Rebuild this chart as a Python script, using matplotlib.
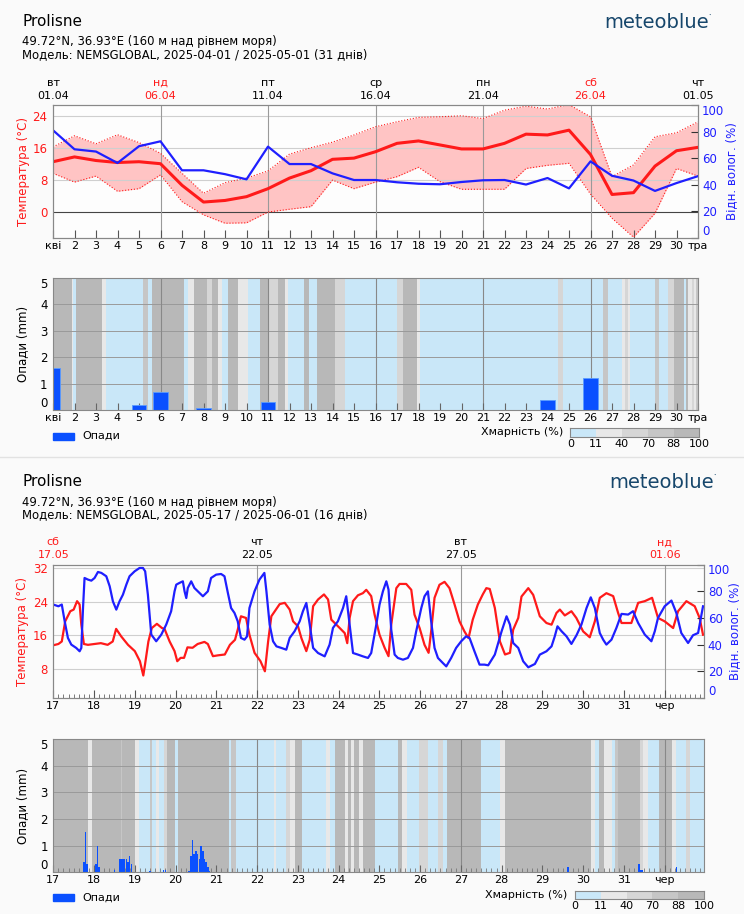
import numpy as np
import matplotlib
matplotlib.use("Agg")
import matplotlib.pyplot as plt
from matplotlib.colors import ListedColormap
from matplotlib.patches import Rectangle
from matplotlib.lines import Line2D

# ---------------- April chart (daily values) ----------------
days1 = np.arange(31)
xlabels1 = ['кві'] + [str(d) for d in range(2, 31)] + ['тра']
top_days1 = ['вт', 'нд', 'пт', 'ср', 'пн', 'сб', 'чт']
top_dates1 = ['01.04', '06.04', '11.04', '16.04', '21.04', '26.04', '01.05']
top_red1 = [False, True, False, False, False, True, False]

t_mean1 = [12.5, 13.7, 12.8, 12.3, 12.5, 12.0, 6.6, 2.4, 2.8, 3.75, 5.75, 8.4, 10.25, 13.1, 13.4,
           15.0, 17.1, 17.7, 16.7, 15.7, 15.7, 17.1, 19.4, 19.2, 20.4, 14.3, 4.3, 4.75, 11.4, 15.25, 16.1]
t_max1 = [16.2, 19.0, 17.0, 19.25, 17.3, 14.6, 9.6, 4.6, 7.25, 8.4, 10.2, 14.4, 16.0, 17.4, 19.2,
          21.25, 22.5, 23.6, 23.75, 24.0, 23.3, 25.4, 26.4, 25.7, 26.8, 23.75, 8.75, 11.7, 18.75, 19.75, 22.5]
t_min1 = [9.6, 7.4, 8.9, 5.1, 5.75, 9.2, 2.5, -0.8, -2.9, -2.8, -0.1, 0.6, 1.25, 7.9, 5.75,
          7.4, 8.75, 11.1, 7.5, 5.6, 5.6, 5.6, 10.8, 11.6, 12.1, 4.4, -1.65, -6.4, -0.4, 10.8, 8.9]
hum1 = [81, 66.7, 65, 56.4, 69, 72.7, 50.9, 50.9, 48, 44.1, 68.7, 55.6, 55.6, 48.6, 43.6,
        43.6, 41.9, 40.8, 40.4, 42.1, 43.4, 43.6, 40.2, 45.1, 37.3, 57.6, 46.8, 43.2, 35.4, 41.3, 46.5]
precip1 = [1.6, 0, 0, 0, 0.2, 0.7, 0, 0.1, 0, 0, 0.3, 0, 0, 0, 0, 0, 0, 0, 0, 0,
           0, 0, 0, 0.4, 0, 1.2, 0, 0, 0, 0, 0]

# cloud cover class per time span (0: 0-11, 1: 11-40, 2: 40-70, 3: 70-88, 4: 88-100 %)
cloud_edges1 = [0, 0.90, 0.95, 1.08, 2.29, 2.45, 4.2, 4.4, 4.59, 6.07, 6.26, 6.57, 7.15, 7.38, 7.69,
                7.84, 8.16, 8.62, 9.09, 9.63, 10.02, 10.48, 10.79, 10.95, 11.67, 11.92, 12.27, 13.12,
                13.58, 15.98, 16.3, 16.93, 17.05, 23.49, 23.71, 25.6, 25.8, 26.46, 26.6, 26.75, 26.85,
                28.0, 28.17, 28.6, 28.87, 29.33, 29.45, 29.55, 29.7, 29.8, 29.9, 30.0]
cloud_cls1 = [4, 1, 0, 4, 1, 0, 3, 0, 4, 0, 1, 4, 2, 4, 1, 0, 4, 1, 0, 4, 2, 4, 1, 0, 4, 0, 4, 2, 0, 2,
              4, 1, 0, 2, 0, 3, 0, 1, 2, 1, 0, 3, 0, 2, 4, 0, 4, 1, 2, 1, 3]

# ---------------- May chart (hourly values) ----------------
xlabels2 = [str(d) for d in range(17, 32)] + ['чер']
top_days2 = ['сб', 'чт', 'вт', 'нд']
top_dates2 = ['17.05', '22.05', '27.05', '01.06']
top_red2 = [True, False, False, True]

temp2_h = [0, 3, 5, 7, 10, 12, 14, 15.5, 16.5, 18, 20.4, 24, 28, 32, 35, 37, 40, 44, 48, 51, 53, 54, 56,
           58, 61, 64, 65.5, 68.5, 71.4, 73, 75, 77, 79, 82, 85, 89, 91, 94, 97, 101, 104, 107, 108.6,
           110.5, 113.5, 115.5, 118.5, 122, 124.6, 126.5, 128.4, 130.4, 133.3, 136.3, 139.2, 141.2,
           144.1, 146.1, 149, 151, 153, 155.9, 159.4, 161.8, 163.7, 166.7, 169.6, 171.6, 173.1, 174.5,
           176.5, 179.4, 182.3, 184.3, 187.2, 189.2, 192.1, 195.1, 197.4, 199, 202, 203.9, 207.8, 210.8,
           212.7, 215.7, 218.6, 221, 222.5, 224.5, 227.4, 230.4, 233.3, 236.3, 239.2, 242.1, 244.5, 247,
           250, 252.9, 255, 257, 260, 263, 266, 268.9, 270.8, 273.8, 275.7, 279.7, 282.6, 286.5, 290.4,
           293.4, 296.3, 298.3, 301.2, 305.1, 308, 312, 315.9, 318.9, 321.8, 325.7, 329.7, 332.6, 334.6,
           338.5, 340.4, 344.4, 348.3, 352.6, 356.1, 360, 365, 367.9, 372.8, 377.7, 380.6, 382.6]
temp2 = [13.6, 13.9, 14.5, 19.3, 21.7, 22.1, 24.1, 23.3, 18.5, 13.9, 13.7, 13.9, 14.1, 13.7, 14.5, 17.5,
         15.7, 13.7, 12.2, 9.8, 6.4, 9.0, 14.5, 17.7, 18.7, 17.7, 17.5, 14.5, 12.2, 9.8, 10.6, 10.6, 13.1,
         13.0, 13.9, 14.4, 13.9, 11.0, 11.2, 11.4, 13.7, 14.9, 17.3, 20.5, 20.1, 16.1, 11.8, 9.8, 7.4, 14.5,
         20.5, 21.7, 23.4, 23.7, 22.1, 19.3, 18.1, 15.3, 12.2, 14.9, 22.9, 24.5, 25.7, 24.5, 19.7, 18.5,
         17.3, 16.5, 14.1, 20.1, 24.1, 25.5, 26.0, 26.8, 25.3, 20.9, 16.1, 13.0, 11.0, 18.5, 27.2, 28.2,
         28.2, 26.8, 20.9, 17.7, 13.7, 11.8, 16.9, 24.9, 28.0, 28.7, 27.2, 23.3, 19.3, 16.9, 15.3, 19.7,
         23.3, 25.7, 27.2, 27.0, 22.5, 14.5, 11.4, 11.8, 17.3, 20.1, 25.2, 27.2, 25.6, 20.5, 18.9, 18.5,
         21.3, 22.1, 20.7, 21.7, 20.1, 16.9, 15.5, 19.3, 24.9, 26.0, 25.3, 21.3, 18.9, 18.9, 18.9, 23.7,
         24.1, 24.9, 20.1, 19.3, 17.7, 21.7, 24.1, 22.9, 20.1, 16.1]

hum2_h = [0, 3, 5, 6.7, 8.6, 10.6, 13.5, 15.5, 16.5, 17.5, 18.4, 20.4, 22.4, 24.3, 26.3, 28.3, 31.2, 33.2,
          35.1, 37.1, 39, 41, 43, 44.9, 47.9, 50.8, 52.8, 54.1, 55.7, 57.7, 60.6, 63.6, 66.5, 69.4, 71.4,
          72.4, 74.3, 76.3, 77.3, 78.3, 79.2, 81.2, 83.1, 86.1, 88.1, 91, 92.9, 95.9, 98.8, 100.8, 102.8,
          104.7, 106.7, 108.6, 110.5, 112.6, 114.1, 115.5, 118.5, 121.4, 124.3, 125.5, 127.4, 129.4,
          131.4, 134.3, 137.2, 139.2, 142.1, 145.1, 147, 149, 151, 153, 155.9, 159.8, 162.7, 164.7, 167.6,
          170.6, 172.5, 174.5, 176.5, 179.4, 182.3, 185.3, 187.2, 190.2, 192.1, 194.1, 196.1, 197.4, 199,
          201, 202.9, 205.9, 208.8, 211.8, 213.7, 216.7, 218.6, 220.6, 222.5, 224.5, 226.5, 229.4, 231.4,
          234.3, 237.2, 240.2, 243.1, 245.1, 248, 251, 253.9, 256.1, 260, 264, 266.9, 268.9, 270.8, 273.8,
          276.7, 279.7, 283.6, 286.5, 290.4, 293.4, 295.3, 296.9, 299.3, 302.2, 305.1, 308.1, 311, 314,
          316.5, 318.9, 321.8, 323.8, 325.7, 328.7, 331.6, 334.6, 338.5, 341.4, 344.4, 348.3, 352.2, 354.2,
          356.1, 360, 364, 366.9, 369.8, 373.8, 376.7, 379.7, 382.6]
hum2 = [70, 68.7, 70, 57.5, 45, 40, 37.5, 35, 37.5, 67.4, 89.9, 88.7, 87.9, 89.9, 94.4, 93.7, 91.2, 83.7,
        72.4, 66.2, 72.4, 77.4, 84.9, 91.2, 94.9, 97.4, 97.4, 94.9, 77.4, 47.5, 42.5, 47.5, 55, 65, 79.9,
        84.9, 86.2, 87.4, 79.9, 74.9, 82.4, 87.4, 82.4, 78.7, 76.2, 79.9, 89.9, 92.4, 92.9, 91.2, 78.7,
        67.4, 63.7, 57.5, 45, 43.7, 46.2, 67.4, 79.9, 88.7, 93.7, 79.9, 55, 42.5, 38.7, 37.5, 36.2, 45,
        50, 57.5, 65, 71.2, 55, 37.5, 33.7, 31.2, 40, 52.5, 57.5, 67.4, 76.2, 55, 33.7, 32.5, 31.2, 30,
        33.7, 55, 69.9, 79.9, 87.4, 81.2, 51.2, 32.5, 30, 28.7, 30, 37.5, 50, 67.4, 76.2, 79.9, 57.5,
        37.5, 30, 26.2, 23.7, 30, 37.5, 42.5, 46.2, 45, 35, 25, 25, 24.5, 32.5, 50, 61.2, 55, 41.2, 37.5,
        27.5, 23, 25.5, 32.5, 35, 38.7, 46.2, 53.7, 50, 46.2, 40.5, 47, 55, 67.4, 75.4, 67.4, 48.7, 43.7,
        40, 43.7, 52.5, 63, 62.5, 65, 56.2, 47.5, 42.5, 50, 60, 68.7, 73, 63.7, 48.7, 41.2, 47, 48.7, 68.7]

precip2_h = [18, 19, 20, 25, 26, 27, 36, 39, 40, 41, 42, 43, 44, 45, 46, 57, 65, 66, 80, 81, 82, 83, 84,
             85, 86, 87, 88, 89, 90, 91, 92, 303, 345, 346, 347, 367]
precip2 = [0.4, 1.5, 0.3, 0.3, 1.0, 0.2, 0.1, 0.5, 0.5, 0.5, 0.5, 0.5, 0.4, 0.6, 0.3, 0.05, 0.1, 0.1,
           0.05, 0.6, 1.2, 0.7, 0.8, 0.7, 0.5, 1.0, 0.8, 0.5, 0.4, 0.2, 0.05, 0.2, 0.3, 0.1, 0.1, 0.2]

cloud_edges2 = [0, 0.86, 0.94, 1.65, 1.69, 2.0, 2.11, 2.37, 2.41, 2.53, 2.6, 2.71, 2.8, 2.98, 3.06, 4.31,
                4.37, 4.48, 5.41, 5.47, 5.7, 5.8, 5.92, 6.09, 6.7, 6.78, 6.9, 7.15, 7.23, 7.31, 7.39, 7.51,
                7.6, 7.9, 8.45, 8.55, 8.67, 8.98, 9.19, 9.45, 9.55, 9.65, 10.5, 10.97, 11.08, 13.2, 13.3,
                13.38, 13.5, 13.7, 13.78, 13.85, 14.4, 14.48, 14.6, 14.85, 15.17, 15.27, 15.53, 15.62, 15.96]
cloud_cls2 = [4, 1, 4, 3, 4, 1, 0, 3, 0, 1, 0, 2, 4, 0, 4, 0, 3, 0, 1, 0, 2, 1, 4, 0, 1, 0, 4, 1, 4, 1,
              4, 1, 4, 0, 4, 1, 0, 2, 0, 2, 0, 4, 0, 1, 4, 1, 0, 4, 1, 0, 3, 4, 2, 1, 0, 4, 1, 0, 2, 0]

cloud_ticks = ['0', '11', '40', '70', '88', '100']
cloud_colors = ['#c9e7f8', '#e8e8e8', '#d6d6d6', '#c6c6c6', '#b8b8b8']

# ---------------- drawing ----------------
W, H = 744, 914
RED = '#ff1a1a'
BLUE = '#1f1fff'
BAR = '#0a50ff'
cmap = ListedColormap(cloud_colors)

fig = plt.figure(figsize=(W / 100, H / 100), dpi=100, facecolor='#fafafa')


def box(x0, y0, x1, y1):
    return [x0 / W, 1 - y1 / H, (x1 - x0) / W, (y1 - y0) / H]


def ftext(x, y, s, **kw):
    fig.text(x / W, 1 - y / H, s, **kw)


def header(y0, line2, logo_x):
    ftext(22, y0 + 21, 'Prolisne', fontsize=11, va='center')
    ftext(22, y0 + 42, '49.72°N, 36.93°E (160 м над рівнем моря)', fontsize=8.4, va='center')
    ftext(22, y0 + 55, line2, fontsize=8.4, va='center')
    ftext(logo_x, y0 + 23, 'meteoblue', fontsize=14, color='#16466b', va='center')
    ftext(logo_x + 104, y0 + 16, '•', fontsize=3, color='#16466b', va='center')


def edge_labels(ax):
    labs = ax.get_yticklabels()
    labs[0].set_va('bottom')
    labs[-1].set_va('top')


def style_spines(ax):
    for s in ax.spines.values():
        s.set_color('#888888')
        s.set_linewidth(0.8)


def set_ylabel_px(ax, text, color, x_px, rect):
    # centre the rotated label at a given pixel column
    ax.set_ylabel(text, color=color, fontsize=8.5)
    ax.yaxis.set_label_coords((x_px - rect[0]) / (rect[2] - rect[0]), 0.5)
    ax.yaxis.label.set_va('center')
    ax.yaxis.label.set_ha('center')


def temp_panel(rect, xlim, ylim, yticks, grid_x, labels_x, xlabels, tops, lab_px):
    ax = fig.add_axes(box(*rect))
    ax.set_facecolor('#fdfdfd')
    ax.set_xlim(*xlim)
    ax.set_ylim(*ylim)
    ax.set_yticks(yticks)
    for t in yticks:
        ax.axhline(t, color='#444444' if t == 0 else '#cfcfcf', lw=0.8, zorder=1.5)
    for g in grid_x:
        ax.axvline(g, color='#9a9a9a', lw=0.8, zorder=1.5)
    ax.tick_params(axis='y', length=0, labelcolor=RED, labelsize=8.5, pad=4)
    ax.set_xticks(labels_x)
    ax.set_xticklabels(xlabels)
    ax.tick_params(axis='x', direction='in', length=6, color='#555555', labelsize=8, pad=2)
    set_ylabel_px(ax, 'Температура (°C)', RED, lab_px[0], rect)
    style_spines(ax)
    for (g, d, dt, red) in tops:
        col = RED if red else 'black'
        ax.annotate(dt, xy=(g, 1), xycoords=('data', 'axes fraction'), xytext=(0, 6.5),
                    textcoords='offset points', ha='center', va='center', fontsize=8, color=col)
        ax.annotate(d, xy=(g, 1), xycoords=('data', 'axes fraction'), xytext=(0, 16),
                    textcoords='offset points', ha='center', va='center', fontsize=8, color=col)
    axr = ax.twinx()
    axr.set_ylim(0, 100)
    axr.set_yticks(range(0, 101, 20))
    axr.tick_params(axis='y', direction='in', length=5, color='#333333', labelcolor=BLUE,
                    labelsize=8.5, pad=3)
    set_ylabel_px(axr, 'Відн. волог. (%)', BLUE, lab_px[1], rect)
    style_spines(axr)
    edge_labels(axr)
    return ax, axr


def precip_panel(rect, xlim, edges, cls, grid_x, labels_x, xlabels):
    ax = fig.add_axes(box(*rect))
    ax.set_xlim(*xlim)
    ax.set_ylim(0, 5)
    ax.pcolormesh(edges, [0, 5], [cls], cmap=cmap, vmin=-0.5, vmax=4.5, zorder=0)
    for v in range(1, 5):
        ax.axhline(v, color='#9a9a9a', lw=0.7, zorder=1)
    for g in grid_x:
        ax.axvline(g, color='#888888', lw=0.8, zorder=1)
    ax.set_yticks(range(6))
    ax.tick_params(axis='y', length=0, labelsize=8.5, pad=4)
    ax.set_xticks(labels_x)
    ax.set_xticklabels(xlabels)
    ax.tick_params(axis='x', direction='in', length=5, color='#666666', labelsize=8, pad=2)
    set_ylabel_px(ax, 'Опади (mm)', 'black', 23, rect)
    style_spines(ax)
    edge_labels(ax)
    return ax


def legends(y_leg, y_cb, cb_x0, cb_x1):
    fig.patches.append(Rectangle((53 / W, 1 - (y_leg + 3.5) / H), 21 / W, 7 / H,
                                 transform=fig.transFigure, color=BAR))
    ftext(82, y_leg, 'Опади', fontsize=8, va='center')
    cax = fig.add_axes(box(cb_x0, y_cb - 4.2, cb_x1, y_cb + 4.2))
    cax.pcolormesh(range(6), [0, 1], [[0, 1, 2, 3, 4]], cmap=cmap, vmin=-0.5, vmax=4.5)
    cax.set_xticks(range(6))
    cax.set_xticklabels(cloud_ticks)
    cax.set_yticks([])
    cax.tick_params(axis='x', length=0, labelsize=8, pad=1.5)
    style_spines(cax)
    ftext(cb_x0 - 7, y_cb, 'Хмарність (%)', fontsize=8, ha='right', va='center')


# ----- April -----
header(0, 'Модель: NEMSGLOBAL, 2025-04-01 / 2025-05-01 (31 днів)', 604)
grid1 = [5, 10, 15, 20, 25]
tops1 = list(zip([0, 5, 10, 15, 20, 25, 30], top_days1, top_dates1, top_red1))
rect1 = (53, 105, 698, 238)
ax1, ax1r = temp_panel(rect1, (0, 30), (-6.6, 26.7), [0, 8, 16, 24],
                       grid1, days1, xlabels1, tops1, (23, 732))
ax1.fill_between(days1, t_min1, t_max1, color='#ffc4c4', lw=0, zorder=1)
ax1.plot(days1, t_max1, color=RED, lw=0.8, ls=':', zorder=2)
ax1.plot(days1, t_min1, color=RED, lw=0.8, ls=':', zorder=2)
ax1.plot(days1, t_mean1, color=RED, lw=2.2, zorder=3)
ax1r.plot(days1, hum1, color=BLUE, lw=1.6)

ax2 = precip_panel((53, 277.5, 698, 410.3), (0, 30), cloud_edges1, cloud_cls1, grid1, days1, xlabels1)
ax2.bar(days1, precip1, width=0.66, color=BAR, edgecolor='#5a9cff', lw=0.6, zorder=2)
legends(436, 432.5, 570.3, 699.3)

fig.add_artist(Line2D([0, 1], [1 - 457 / H, 1 - 457 / H], color='#e2e2e2', lw=1))

# ----- May -----
header(460, 'Модель: NEMSGLOBAL, 2025-05-17 / 2025-06-01 (16 днів)', 609)
xend = 383 / 24
grid2 = [5, 10, 15]
day2 = np.arange(16)
tops2 = list(zip([0, 5, 10, 15], top_days2, top_dates2, top_red2))
rect3 = (53.3, 564.5, 703.7, 698)
ax3, ax3r = temp_panel(rect3, (0, xend), (1.04, 32.83), [8, 16, 24, 32],
                       grid2, day2, xlabels2, tops2, (23, 735))
ax3.set_xticks(np.arange(0, xend, 0.125), minor=True)
ax3.tick_params(axis='x', which='minor', direction='in', length=3, color='#666666')
ax3.plot(np.array(temp2_h) / 24, temp2, color=RED, lw=1.6, zorder=3)
ax3r.plot(np.array(hum2_h) / 24, hum2, color=BLUE, lw=1.6)

ax4 = precip_panel((53.3, 739, 703.7, 872.3), (0, xend), cloud_edges2, cloud_cls2, grid2, day2, xlabels2)
ax4.set_xticks(np.arange(0, xend, 0.125), minor=True)
ax4.tick_params(axis='x', which='minor', direction='in', length=3, color='#777777')
ax4.bar(np.array(precip2_h) / 24, precip2, width=0.9 / 24, color=BAR, lw=0, zorder=2)
legends(897.5, 895, 574.7, 704.3)

fig.savefig('out.png', dpi=100, facecolor=fig.get_facecolor())
